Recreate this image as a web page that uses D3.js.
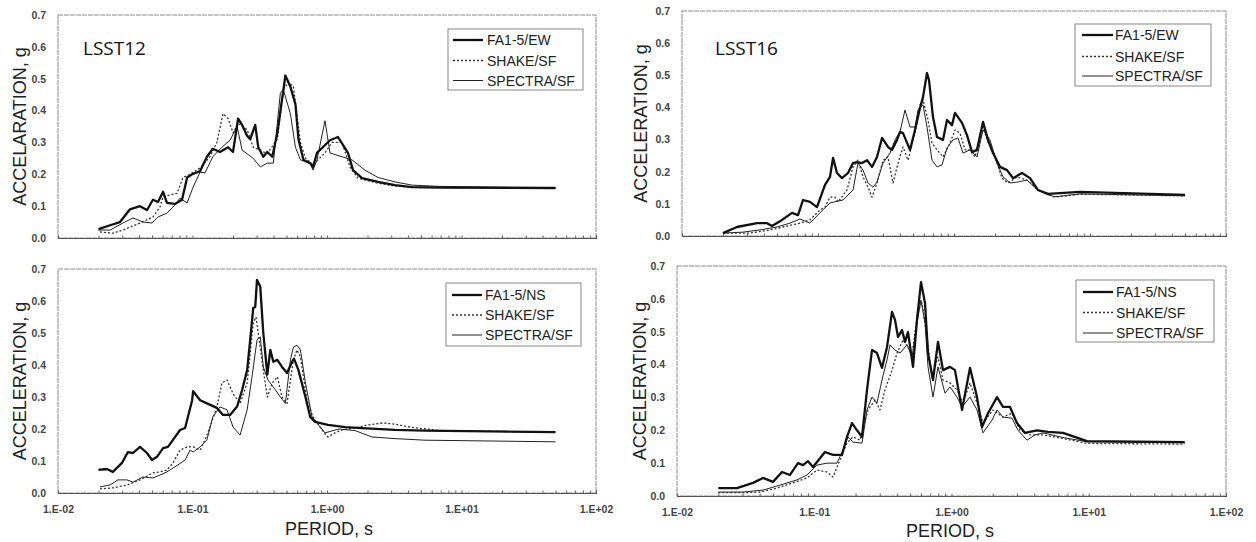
<!DOCTYPE html>
<html><head><meta charset="utf-8">
<script src="https://cdn.jsdelivr.net/npm/d3@7/dist/d3.min.js"></script>
<style>body{margin:0;background:#fff} svg{display:block}</style>
</head><body>
<svg id="c" width="1256" height="542"></svg>
<script>
// ---------- DATA ----------
const yTicks = [0, 0.1, 0.2, 0.3, 0.4, 0.5, 0.6, 0.7];
const xTicks = [0.01, 0.1, 1, 10, 100];
const xTickLabels = ["1.E-02", "1.E-01", "1.E+00", "1.E+01", "1.E+02"];
const panelTitles = ["LSST12", "LSST16", "", ""];
const yTitles = ["ACCELARATION, g", "ACCELERATION, g", "ACCELERATION, g", "ACCELERATION, g"];
const xTitle = "PERIOD, s";
const namesEW = ["FA1-5/EW", "SHAKE/SF", "SPECTRA/SF"];
const namesNS = ["FA1-5/NS", "SHAKE/SF", "SPECTRA/SF"];

// LSST12 EW  [period s, acceleration g]
const lsst12_fa_ew = [[0.02,0.028],[0.0244,0.04],[0.0289,0.05],[0.0343,0.09],[0.0407,0.10],[0.0459,0.088],[0.0508,0.12],[0.0554,0.113],[0.0604,0.145],[0.0646,0.11],[0.0741,0.107],[0.0836,0.12],[0.0912,0.19],[0.0994,0.20],[0.114,0.21],[0.128,0.255],[0.1416,0.28],[0.16,0.27],[0.1838,0.285],[0.20,0.27],[0.2183,0.375],[0.2338,0.355],[0.2549,0.32],[0.2684,0.31],[0.2927,0.355],[0.3082,0.285],[0.336,0.255],[0.36,0.27],[0.392,0.255],[0.4274,0.33],[0.4904,0.51],[0.5344,0.475],[0.5824,0.42],[0.6133,0.31],[0.6682,0.245],[0.75,0.235],[0.787,0.223],[0.842,0.267],[1.053,0.307],[1.207,0.317],[1.432,0.267],[1.561,0.213],[1.82,0.188],[2.395,0.176],[3.204,0.166],[4.29,0.16],[6.925,0.158],[50,0.157]];
const lsst12_shake_ew = [[0.0205,0.019],[0.0256,0.015],[0.0304,0.025],[0.0407,0.047],[0.0508,0.066],[0.0573,0.097],[0.0604,0.13],[0.068,0.135],[0.0767,0.14],[0.0851,0.19],[0.096,0.20],[0.114,0.22],[0.1348,0.255],[0.1519,0.30],[0.1685,0.39],[0.1838,0.375],[0.2003,0.33],[0.2183,0.36],[0.2549,0.34],[0.2828,0.285],[0.36,0.265],[0.4274,0.31],[0.4739,0.465],[0.5164,0.49],[0.5628,0.475],[0.6347,0.30],[0.6915,0.25],[0.787,0.23],[0.966,0.267],[1.09,0.30],[1.293,0.30],[1.483,0.223],[1.70,0.188],[2.395,0.172],[3.204,0.163],[4.29,0.16],[50,0.157]];
const lsst12_spectra_ew = [[0.02,0.025],[0.0244,0.025],[0.0304,0.047],[0.0361,0.063],[0.0428,0.05],[0.05,0.047],[0.0554,0.066],[0.0646,0.078],[0.0716,0.097],[0.0808,0.125],[0.0912,0.11],[0.1011,0.16],[0.114,0.207],[0.1238,0.204],[0.1416,0.255],[0.1656,0.285],[0.1902,0.307],[0.2145,0.35],[0.2338,0.276],[0.2828,0.25],[0.319,0.223],[0.36,0.235],[0.399,0.235],[0.45,0.455],[0.4739,0.465],[0.5344,0.39],[0.5824,0.285],[0.6347,0.245],[0.75,0.235],[0.787,0.213],[0.842,0.245],[0.966,0.368],[1.053,0.267],[1.293,0.255],[1.535,0.245],[1.917,0.213],[2.395,0.19],[3.204,0.176],[4.29,0.166],[6.925,0.162],[50,0.158]];

// LSST16 EW
const lsst16_fa_ew = [[0.02,0.009],[0.02537,0.028],[0.0356,0.04],[0.04217,0.04],[0.0459,0.031],[0.05437,0.05],[0.0644,0.072],[0.0713,0.065],[0.0776,0.112],[0.0873,0.106],[0.0983,0.09],[0.1126,0.159],[0.1225,0.184],[0.129,0.243],[0.1379,0.196],[0.1502,0.18],[0.1662,0.196],[0.1809,0.227],[0.1936,0.23],[0.2106,0.227],[0.2293,0.236],[0.2495,0.215],[0.2716,0.246],[0.2956,0.305],[0.3271,0.277],[0.35,0.268],[0.3811,0.299],[0.4009,0.324],[0.4217,0.32],[0.4749,0.268],[0.5167,0.33],[0.5623,0.398],[0.5917,0.432],[0.6332,0.507],[0.655,0.485],[0.7009,0.37],[0.7499,0.308],[0.8302,0.299],[0.8884,0.361],[0.9667,0.345],[1.017,0.383],[1.145,0.352],[1.246,0.314],[1.357,0.261],[1.476,0.268],[1.634,0.355],[1.778,0.299],[1.936,0.258],[2.179,0.215],[2.453,0.205],[2.716,0.18],[3.162,0.196],[3.622,0.18],[4.147,0.143],[4.912,0.131],[8.444,0.137],[50,0.128]];
const lsst16_shake_ew = [[0.02,0.009],[0.03162,0.009],[0.04436,0.019],[0.05529,0.028],[0.0737,0.04],[0.0873,0.05],[0.1034,0.081],[0.1126,0.09],[0.1225,0.121],[0.1334,0.121],[0.1403,0.106],[0.1634,0.143],[0.1809,0.215],[0.1968,0.236],[0.2142,0.184],[0.2332,0.152],[0.2495,0.121],[0.2716,0.165],[0.3006,0.236],[0.3271,0.246],[0.3561,0.165],[0.3876,0.227],[0.4217,0.277],[0.459,0.236],[0.5167,0.32],[0.5623,0.408],[0.5917,0.423],[0.644,0.361],[0.6891,0.289],[0.7499,0.268],[0.8302,0.246],[0.9345,0.289],[1.017,0.33],[1.107,0.32],[1.205,0.268],[1.311,0.268],[1.427,0.246],[1.553,0.305],[1.634,0.339],[1.778,0.292],[2.002,0.246],[2.254,0.18],[2.495,0.165],[2.905,0.184],[3.442,0.174],[4.147,0.143],[5.529,0.121],[8.444,0.13],[50,0.125]];
const lsst16_spectra_ew = [[0.02,0.009],[0.02809,0.012],[0.03746,0.019],[0.04994,0.028],[0.0622,0.04],[0.0737,0.053],[0.0873,0.04],[0.1034,0.072],[0.1225,0.103],[0.1527,0.112],[0.1809,0.143],[0.1968,0.227],[0.2142,0.205],[0.2332,0.165],[0.2538,0.152],[0.2716,0.168],[0.3006,0.227],[0.3383,0.258],[0.3684,0.299],[0.4009,0.324],[0.4362,0.392],[0.4749,0.339],[0.5167,0.339],[0.5437,0.392],[0.5917,0.408],[0.6332,0.339],[0.6891,0.236],[0.7499,0.215],[0.8163,0.221],[0.8884,0.274],[0.9832,0.299],[1.07,0.305],[1.165,0.258],[1.311,0.268],[1.476,0.246],[1.634,0.33],[1.839,0.299],[2.072,0.227],[2.293,0.184],[2.581,0.165],[2.956,0.168],[3.442,0.174],[4.147,0.143],[4.912,0.128],[5.529,0.122],[8.444,0.131],[50,0.125]];

// LSST12 NS
const lsst12_fa_ns = [[0.02,0.072],[0.0231,0.075],[0.0256,0.066],[0.0299,0.094],[0.0331,0.128],[0.0361,0.125],[0.0407,0.144],[0.0459,0.125],[0.05,0.103],[0.0545,0.113],[0.0604,0.14],[0.0657,0.144],[0.0716,0.166],[0.0808,0.197],[0.0881,0.203],[0.0994,0.29],[0.1011,0.318],[0.114,0.29],[0.128,0.28],[0.1519,0.266],[0.1685,0.244],[0.1902,0.244],[0.2145,0.27],[0.2338,0.322],[0.2549,0.384],[0.2684,0.478],[0.2828,0.578],[0.2927,0.581],[0.3017,0.666],[0.319,0.645],[0.336,0.50],[0.36,0.37],[0.379,0.447],[0.399,0.41],[0.4274,0.416],[0.4629,0.394],[0.5042,0.375],[0.5494,0.41],[0.5684,0.42],[0.6133,0.384],[0.6915,0.30],[0.75,0.238],[0.8144,0.222],[1.017,0.213],[1.361,0.206],[1.82,0.203],[3.204,0.197],[5.355,0.195],[50,0.19]];
const lsst12_shake_ns = [[0.0205,0.013],[0.0256,0.016],[0.0326,0.025],[0.0407,0.041],[0.0508,0.063],[0.0573,0.066],[0.0646,0.072],[0.0716,0.094],[0.0808,0.134],[0.0912,0.144],[0.1011,0.144],[0.114,0.134],[0.1238,0.166],[0.1348,0.206],[0.1519,0.269],[0.1656,0.344],[0.1806,0.353],[0.2003,0.31],[0.2259,0.28],[0.2549,0.344],[0.2828,0.53],[0.2965,0.55],[0.3082,0.50],[0.336,0.384],[0.36,0.30],[0.392,0.344],[0.4274,0.363],[0.4629,0.30],[0.5042,0.28],[0.5628,0.416],[0.5984,0.447],[0.6347,0.425],[0.7099,0.29],[0.787,0.238],[0.918,0.197],[1.017,0.175],[1.147,0.188],[1.293,0.197],[1.615,0.203],[2.017,0.213],[2.609,0.219],[3.204,0.215],[4.29,0.205],[6.925,0.195],[50,0.19]];
const lsst12_spectra_ns = [[0.0205,0.019],[0.0244,0.025],[0.0279,0.041],[0.0326,0.041],[0.0361,0.034],[0.0428,0.05],[0.0508,0.047],[0.0573,0.056],[0.0646,0.066],[0.0716,0.078],[0.078,0.088],[0.0881,0.103],[0.096,0.134],[0.1011,0.128],[0.114,0.144],[0.128,0.166],[0.1416,0.238],[0.16,0.269],[0.1806,0.26],[0.2003,0.206],[0.2259,0.181],[0.2549,0.26],[0.277,0.363],[0.3017,0.478],[0.319,0.488],[0.336,0.394],[0.3642,0.353],[0.399,0.331],[0.45,0.30],[0.4904,0.28],[0.5344,0.416],[0.5628,0.456],[0.5984,0.462],[0.6347,0.447],[0.6915,0.344],[0.7737,0.238],[0.842,0.219],[0.966,0.188],[1.23,0.20],[1.615,0.195],[2.161,0.175],[3.204,0.17],[5.355,0.165],[50,0.16]];

// LSST16 NS
const lsst16_fa_ns = [[0.02,0.024],[0.02736,0.024],[0.03579,0.04],[0.04233,0.055],[0.05005,0.043],[0.05821,0.073],[0.06658,0.064],[0.07613,0.1],[0.08279,0.094],[0.09004,0.106],[0.09792,0.088],[0.1197,0.134],[0.1369,0.125],[0.1593,0.125],[0.1732,0.18],[0.1884,0.222],[0.2049,0.2],[0.2228,0.18],[0.2423,0.323],[0.2635,0.444],[0.2865,0.435],[0.3116,0.39],[0.3389,0.453],[0.3686,0.56],[0.3876,0.536],[0.4077,0.484],[0.4359,0.505],[0.4584,0.469],[0.4821,0.499],[0.5242,0.393],[0.5605,0.536],[0.5995,0.651],[0.6411,0.587],[0.6742,0.435],[0.7333,0.353],[0.7973,0.469],[0.8672,0.383],[0.9752,0.393],[1.06,0.383],[1.193,0.262],[1.364,0.39],[1.534,0.301],[1.668,0.21],[1.845,0.252],[2.146,0.301],[2.373,0.271],[2.669,0.271],[3.001,0.222],[3.432,0.192],[4.198,0.2],[5.049,0.195],[6.492,0.192],[9.71,0.167],[50,0.164]];
const lsst16_shake_ns = [[0.02,0.01],[0.03027,0.01],[0.04025,0.012],[0.05353,0.024],[0.07,0.04],[0.08853,0.055],[0.1047,0.079],[0.1239,0.073],[0.1369,0.058],[0.154,0.11],[0.1732,0.161],[0.1916,0.18],[0.2154,0.17],[0.2464,0.262],[0.2771,0.292],[0.3013,0.262],[0.3277,0.323],[0.3686,0.383],[0.4009,0.435],[0.4433,0.475],[0.4821,0.453],[0.5242,0.453],[0.57,0.566],[0.6096,0.587],[0.663,0.484],[0.721,0.362],[0.7973,0.423],[0.8672,0.353],[0.9752,0.344],[1.097,0.323],[1.213,0.283],[1.364,0.344],[1.534,0.283],[1.696,0.222],[2.007,0.262],[2.373,0.24],[2.76,0.252],[3.156,0.2],[3.732,0.186],[4.642,0.186],[6.492,0.175],[9.71,0.16],[50,0.158]];
const lsst16_spectra_ns = [[0.02,0.012],[0.03027,0.012],[0.04233,0.018],[0.05629,0.033],[0.07486,0.049],[0.08853,0.064],[0.1047,0.094],[0.1239,0.1],[0.1464,0.1],[0.162,0.14],[0.1762,0.18],[0.1916,0.164],[0.2228,0.161],[0.2423,0.262],[0.2635,0.301],[0.2865,0.283],[0.3116,0.353],[0.3389,0.414],[0.3564,0.46],[0.3876,0.444],[0.4215,0.435],[0.4741,0.46],[0.5155,0.423],[0.5605,0.526],[0.5995,0.596],[0.6411,0.526],[0.6742,0.393],[0.7333,0.301],[0.7973,0.393],[0.8966,0.313],[0.9752,0.332],[1.097,0.301],[1.193,0.271],[1.364,0.301],[1.534,0.262],[1.696,0.192],[1.973,0.231],[2.146,0.262],[2.373,0.24],[2.76,0.237],[3.052,0.2],[3.549,0.17],[4.059,0.186],[4.642,0.192],[6.492,0.178],[9.71,0.165],[50,0.162]];

// ---------- LAYOUT ----------
const panels = [
  {l:58, r:596, t:15, b:238, series:[lsst12_fa_ew, lsst12_shake_ew, lsst12_spectra_ew], names:namesEW, title:panelTitles[0], ytitle:yTitles[0], yt:20, xlab:false,
   leg:{x:448, y:29, w:135, h:61, rows:[40,60.5,80.5], lx0:453, lx1:483, tx:487}, tl:{x:83, y:55}},
  {l:682, r:1226, t:11, b:236, series:[lsst16_fa_ew, lsst16_shake_ew, lsst16_spectra_ew], names:namesEW, title:panelTitles[1], ytitle:yTitles[1], yt:641, xlab:false,
   leg:{x:1075, y:24, w:136, h:62, rows:[35,56.5,76], lx0:1082, lx1:1113, tx:1115}, tl:{x:715, y:55}},
  {l:58, r:596, t:269, b:493, series:[lsst12_fa_ns, lsst12_shake_ns, lsst12_spectra_ns], names:namesNS, title:panelTitles[2], ytitle:yTitles[2], yt:20, xlab:true,
   leg:{x:446, y:283, w:135, h:63, rows:[295,315,335], lx0:452, lx1:482, tx:485}, xt:{x:329, y:535}},
  {l:677, r:1226, t:266, b:496, series:[lsst16_fa_ns, lsst16_shake_ns, lsst16_spectra_ns], names:namesNS, title:panelTitles[3], ytitle:yTitles[3], yt:640, xlab:true,
   leg:{x:1076, y:280, w:138, h:62, rows:[292,312.5,333], lx0:1083, lx1:1113, tx:1116}, xt:{x:950, y:537}}
];
const styles = [
  {w:2.3, dash:null, c:"#111"},
  {w:1.3, dash:"2,2", c:"#333"},
  {w:1.0, dash:null, c:"#222"}
];
const FONT = "'Liberation Sans', Arial, sans-serif";

const svg = d3.select("#c");

panels.forEach(p => {
  const x = d3.scaleLog().domain([xTicks[0], xTicks[xTicks.length-1]]).range([p.l, p.r]);
  const y = d3.scaleLinear().domain([yTicks[0], yTicks[yTicks.length-1]]).range([p.b, p.t]);
  const g = svg.append("g");

  // frame
  g.append("rect").attr("x", p.l).attr("y", p.t).attr("width", p.r-p.l).attr("height", p.b-p.t)
    .attr("fill", "none").attr("stroke", "#8a8a8a").attr("stroke-width", 1).attr("stroke-dasharray", "5,1");

  // bottom minor ticks
  const minor = [];
  for (let e = -2; e < 2; e++) for (let k = 1; k < 10; k++) minor.push(k * Math.pow(10, e));
  minor.push(100);
  const ax = g.append("g").attr("transform", `translate(0,${p.b})`)
    .call(d3.axisBottom(x).tickValues(minor).tickSize(-2.5).tickFormat(""));
  ax.select(".domain").attr("stroke", "#555").attr("stroke-width", 1.2);
  ax.selectAll(".tick line").attr("stroke", "#666");

  if (p.xlab) {
    const xl = g.append("g").attr("transform", `translate(0,${p.b})`)
      .call(d3.axisBottom(x).tickValues(xTicks).tickSize(0).tickPadding(13).tickFormat((d,i) => xTickLabels[i]));
    xl.select(".domain").remove();
    xl.selectAll("text").attr("font-family", FONT).attr("font-size", 10.5).attr("font-weight", "bold").attr("fill", "#444");
    g.append("text").attr("x", p.xt.x).attr("y", p.xt.y).attr("text-anchor", "middle")
      .attr("font-family", FONT).attr("font-size", 18).attr("fill", "#222").text(xTitle);
  }

  // y axis labels
  const yl = g.append("g").attr("transform", `translate(${p.l},0)`)
    .call(d3.axisLeft(y).tickValues(yTicks).tickSize(0).tickPadding(12).tickFormat(d3.format(".1f")));
  yl.select(".domain").remove();
  yl.selectAll("text").attr("font-family", FONT).attr("font-size", 10.5).attr("font-weight", "bold").attr("fill", "#444");

  // y title
  g.append("text").attr("transform", `translate(${p.yt + 6},${(p.t+p.b)/2}) rotate(-90)`)
    .attr("text-anchor", "middle").attr("font-family", FONT).attr("font-size", 18).attr("fill", "#222").text(p.ytitle);

  // lines
  const line = d3.line().x(d => x(d[0])).y(d => y(d[1]));
  [2, 1, 0].forEach(i => {
    const s = styles[i];
    g.append("path").datum(p.series[i]).attr("d", line).attr("fill", "none")
      .attr("stroke", s.c).attr("stroke-width", s.w).attr("stroke-linejoin", "round")
      .attr("stroke-dasharray", s.dash);
  });

  // panel title
  if (p.title) {
    g.append("text").attr("x", p.tl.x).attr("y", p.tl.y).attr("font-family", "'Open Sans', sans-serif")
      .attr("font-size", 19).attr("fill", "#111").text(p.title);
  }

  // legend
  const L = p.leg;
  g.append("rect").attr("x", L.x).attr("y", L.y).attr("width", L.w).attr("height", L.h)
    .attr("fill", "#fff").attr("stroke", "#888").attr("stroke-width", 1);
  p.names.forEach((n, i) => {
    const s = styles[i];
    g.append("line").attr("x1", L.lx0).attr("x2", L.lx1).attr("y1", L.rows[i]).attr("y2", L.rows[i])
      .attr("stroke", s.c).attr("stroke-width", s.w).attr("stroke-dasharray", s.dash);
    g.append("text").attr("x", L.tx).attr("y", L.rows[i] + 5).attr("font-family", FONT)
      .attr("font-size", 14).attr("fill", "#222").text(n);
  });
});
</script>
</body></html>
